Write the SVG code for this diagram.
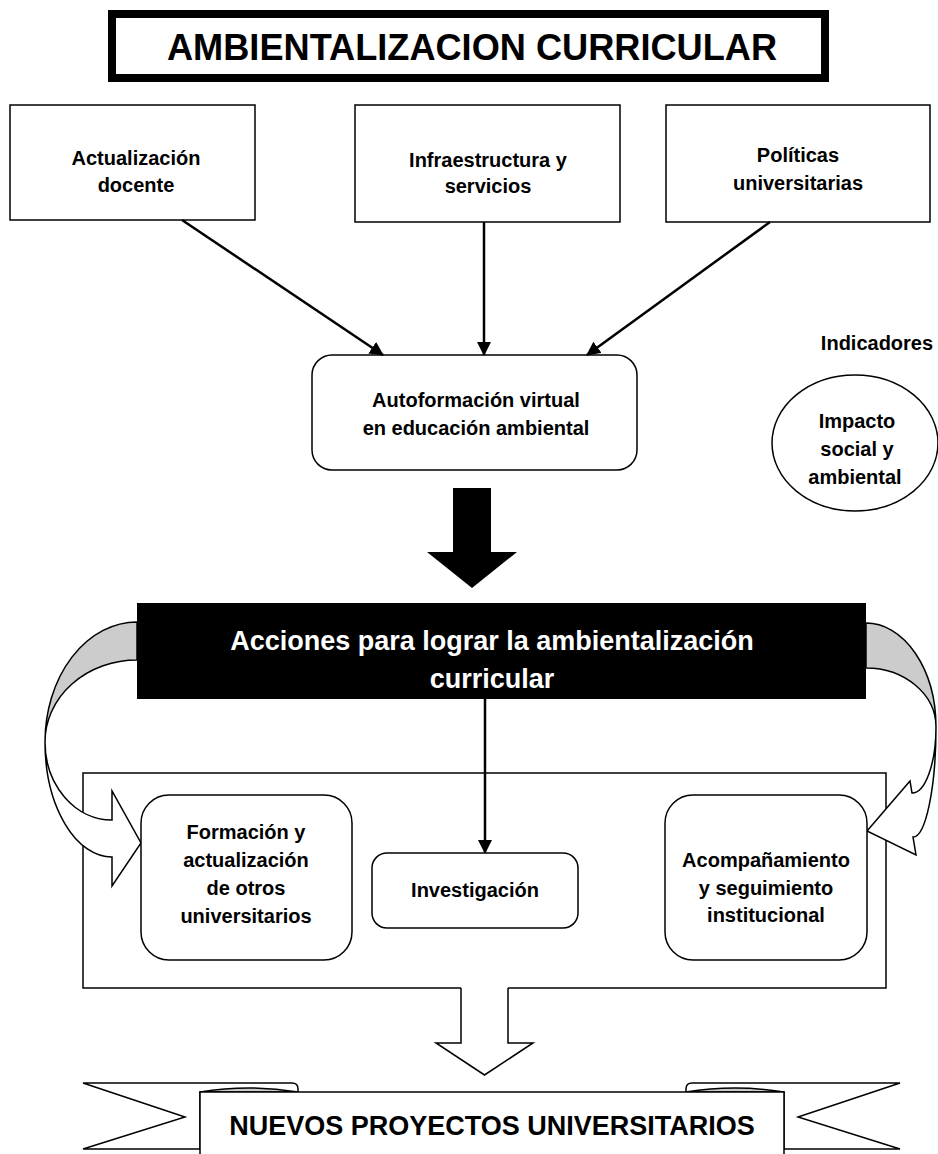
<svg xmlns="http://www.w3.org/2000/svg" width="938" height="1154" viewBox="0 0 938 1154">
<defs>
<marker id="ah" markerUnits="userSpaceOnUse" markerWidth="14" markerHeight="14" viewBox="0 0 14 14" refX="13" refY="7" orient="auto"><path d="M0,0 L14,7 L0,14 z" fill="#000"/></marker>
</defs>
<style>
.b{fill:#fff;stroke:#000;stroke-width:1.5}
.t{font-family:"Liberation Sans",Arial,sans-serif;font-weight:bold;font-size:20px;text-anchor:middle;fill:#000}
.w{fill:#fff}
.c{stroke:#000;stroke-width:2.5;fill:none;marker-end:url(#ah)}
.g{fill:#ccc;stroke:#000;stroke-width:1.5}
</style>
<rect width="938" height="1154" fill="#fff"/>
<g id="title">
<rect x="112" y="14" width="713" height="64" fill="#fff" stroke="#000" stroke-width="8"/>
<text x="472" y="60" class="t" style="font-size:37px" textLength="610" lengthAdjust="spacingAndGlyphs">AMBIENTALIZACION CURRICULAR</text>
</g>
<g id="actualizacion">
<rect class="b" x="10" y="105" width="245" height="115"/>
<text class="t" x="136" y="165">Actualización</text>
<text class="t" x="136" y="192">docente</text>
</g>
<g id="infraestructura">
<rect class="b" x="355" y="105" width="265" height="117"/>
<text class="t" x="488" y="167">Infraestructura y</text>
<text class="t" x="488" y="193">servicios</text>
</g>
<g id="politicas">
<rect class="b" x="666" y="105" width="264" height="117"/>
<text class="t" x="798" y="162">Políticas</text>
<text class="t" x="798" y="190">universitarias</text>
</g>
<g id="autoformacion">
<rect class="b" x="312" y="355" width="325" height="115" rx="20"/>
<text class="t" x="476" y="407">Autoformación virtual</text>
<text class="t" x="476" y="435">en educación ambiental</text>
</g>
<g id="indicadores">
<text class="t" x="877" y="350">Indicadores</text>
<ellipse class="b" cx="855" cy="443" rx="83" ry="68"/>
<text class="t" x="857" y="428">Impacto</text>
<text class="t" x="857" y="456">social y</text>
<text class="t" x="855" y="484">ambiental</text>
</g>
<g id="acciones">
<rect x="137" y="603" width="729" height="96" fill="#000"/>
<text class="t w" x="492" y="650" style="font-size:27px">Acciones para lograr la ambientalización</text>
<text class="t w" x="492" y="688" style="font-size:27px">curricular</text>
</g>
<g id="marco">
<rect class="b" x="83" y="773" width="803" height="215"/>
</g>
<g id="nuevos">
<path class="b" d="M83,1083 H292 Q298,1083 298,1089 V1092 H200 V1149 H83 L185,1117 Z"/>
<path class="b" d="M900,1083 H692 Q686,1083 686,1089 V1092 H784 V1149 H900 L798,1117 Z"/>
<path class="g" d="M200,1092 Q249,1084 298,1092 Z"/>
<path class="g" d="M686,1092 Q735,1084 784,1092 Z"/>
<path class="b" d="M200,1160 V1092 H784 V1160"/>
<text class="t" x="492" y="1135" style="font-size:27px">NUEVOS PROYECTOS UNIVERSITARIOS</text>
</g>
<g id="connectors">
<line class="c" x1="182" y1="220" x2="383" y2="355"/>
<line class="c" x1="484" y1="222" x2="484" y2="355"/>
<line class="c" x1="770" y1="222" x2="587" y2="355"/>
<line class="c" x1="485" y1="699" x2="485" y2="853"/>
<polygon points="453,488 491,488 491,552 517,552 472,588 427,552 453,552" fill="#000"/>
<path class="g" d="M137,622 A92,120 0 0 0 45,742 A92,82 0 0 1 137,660 Z"/>
<path class="b" d="M45,742 A67,115 0 0 0 112,857 L112,886 L141,843 L112,791 L112,820 A67,78 0 0 1 45,742 Z"/>
<path class="g" d="M866,623 A70,104 0 0 1 936,727 A70,59 0 0 0 866,668 Z"/>
<path class="b" d="M936,727 A23,110 0 0 1 913,837 L916,855 L867,831 L910,781 L912,793 A24,66 0 0 0 936,727 Z"/>
<polygon points="461,986 508,986 508,1043 533,1043 484.5,1075 436,1043 461,1043" fill="#fff"/>
<polyline points="461,988 461,1043 436,1043 484.5,1075 533,1043 508,1043 508,988" fill="none" stroke="#000" stroke-width="1.5"/>
</g>
<g id="formacion">
<rect class="b" x="141" y="795" width="211" height="165" rx="28"/>
<text class="t" x="246" y="839">Formación y</text>
<text class="t" x="246" y="867">actualización</text>
<text class="t" x="246" y="895">de otros</text>
<text class="t" x="246" y="923">universitarios</text>
</g>
<g id="investigacion">
<rect class="b" x="372" y="853" width="206" height="75" rx="15"/>
<text class="t" x="475" y="897">Investigación</text>
</g>
<g id="acompanamiento">
<rect class="b" x="665" y="795" width="202" height="165" rx="28"/>
<text class="t" x="766" y="867">Acompañamiento</text>
<text class="t" x="766" y="895">y seguimiento</text>
<text class="t" x="766" y="922">institucional</text>
</g>
</svg>
